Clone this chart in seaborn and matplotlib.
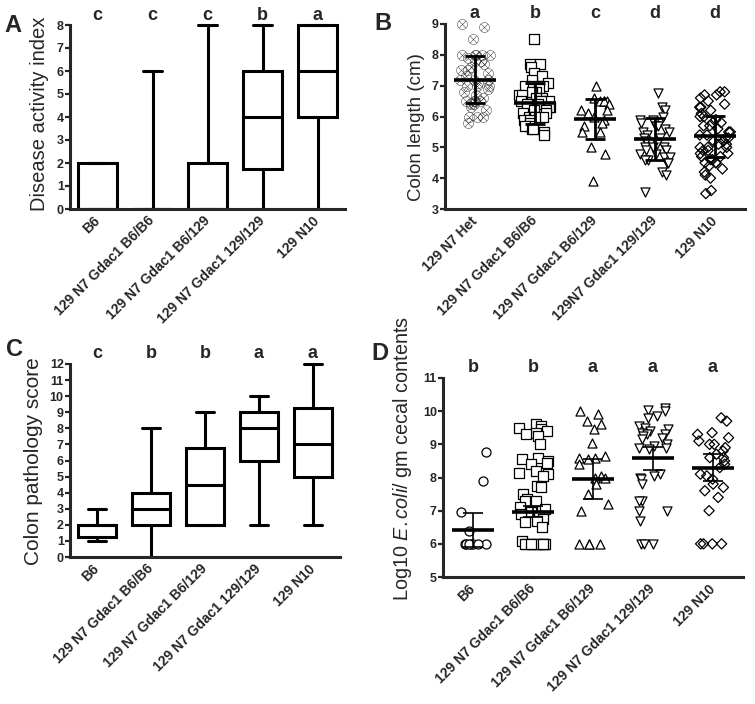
import numpy as np
import pandas as pd
import matplotlib
matplotlib.use("Agg")
import matplotlib.pyplot as plt
import matplotlib.transforms as mtransforms
import seaborn as sns

# group names
groups = ["B6", "129 N7 Gdac1 B6/B6", "129 N7 Gdac1 B6/129", "129 N7 Gdac1 129/129", "129 N10"]
groups_b = ["129 N7 Het", "129 N7 Gdac1 B6/B6", "129 N7 Gdac1 B6/129", "129N7 Gdac1 129/129", "129 N10"]

# Panel A - disease activity index, (min, q1, median, q3, max) per group
dai_b6 = [0, 0, 0, 2, 2]
dai_b6b6 = [0, 0, 0, 0, 6]
dai_b6129 = [0, 0, 0, 2, 8]
dai_129129 = [0, 1.75, 4, 6, 8]
dai_n10 = [0, 4, 6, 8, 8]
letters_a = ["c", "c", "c", "b", "a"]

# Panel B - colon length (cm), individual mice
len_het = [9.0, 8.9, 8.5, 8.0, 8.0, 8.0, 8.0, 8.0, 7.9, 7.8, 7.8, 7.7, 7.6, 7.5, 7.5, 7.4, 7.3,
           7.2, 7.2, 7.2, 7.1, 7.0, 7.0, 7.0, 6.9, 6.8, 6.7, 6.6, 6.5, 6.5, 6.5, 6.5, 6.4, 6.4,
           6.3, 6.2, 6.0, 6.0, 6.0, 5.8]
len_b6b6 = [8.5, 7.7, 7.7, 7.6, 7.4, 7.3, 7.2, 7.1, 7.0, 7.0, 7.0, 6.9, 6.9, 6.8, 6.8, 6.7, 6.7,
            6.6, 6.6, 6.5, 6.5, 6.5, 6.5, 6.4, 6.4, 6.4, 6.3, 6.3, 6.2, 6.2, 6.1, 6.1, 6.0, 6.0,
            6.0, 6.0, 5.9, 5.9, 5.8, 5.7, 5.7, 5.6, 5.6, 5.5, 5.4]
len_b6129 = [7.0, 6.6, 6.5, 6.5, 6.5, 6.5, 6.4, 6.2, 6.2, 6.1, 6.0, 5.9, 5.8, 5.7, 5.5, 5.5,
             5.0, 4.8, 3.9]
len_129129 = [6.75, 6.3, 6.2, 6.0, 5.9, 5.9, 5.8, 5.8, 5.7, 5.7, 5.6, 5.5, 5.5, 5.4, 5.3, 5.3,
              5.2, 5.1, 5.0, 5.0, 4.9, 4.8, 4.8, 4.7, 4.7, 4.6, 4.6, 4.5, 4.5, 4.9, 5.0, 4.2,
              4.1, 3.55]
len_n10 = [6.8, 6.8, 6.7, 6.7, 6.6, 6.5, 6.4, 6.3, 6.3, 6.2, 6.1, 6.0, 6.0, 5.9, 5.8, 5.8, 5.7,
           5.7, 5.6, 5.5, 5.5, 5.4, 5.4, 5.3, 5.3, 5.2, 5.2, 5.1, 5.1, 5.0, 5.0, 5.0, 4.9, 4.9,
           4.8, 4.8, 4.7, 4.7, 4.6, 4.6, 4.5, 4.5, 4.5, 4.4, 4.3, 4.2, 4.1, 4.0, 3.6, 3.5]
len_mean = [7.2, 6.43, 5.93, 5.26, 5.36]
len_sd = [0.75, 0.66, 0.65, 0.68, 0.66]
letters_b = ["a", "b", "c", "d", "d"]

# Panel C - colon pathology score, (min, q1, median, q3, max)
path_b6 = [1, 1.25, 2, 2, 3]
path_b6b6 = [0, 2, 3, 4, 8]
path_b6129 = [2, 2, 4.5, 6.75, 9]
path_129129 = [2, 6, 8, 9, 10]
path_n10 = [2, 5, 7, 9.25, 12]
letters_c = ["c", "b", "b", "a", "a"]

# Panel D - log10 E. coli per gm cecal contents
ecoli_b6 = [8.78, 7.9, 6.95, 6.4, 6.0, 6.0, 6.0, 6.0, 6.0, 6.0, 6.0]
ecoli_b6b6 = [9.6, 9.55, 9.5, 9.45, 9.4, 9.35, 9.3, 9.25, 9.0, 8.6, 8.55, 8.5, 8.45, 8.4, 8.2,
              8.15, 8.1, 8.05, 7.75, 7.7, 7.5, 7.35, 7.3, 7.3, 7.1, 7.05, 7.0, 6.95, 6.9, 6.85,
              6.75, 6.7, 6.65, 6.5, 6.1, 6.0, 6.0, 6.0, 6.0, 6.0, 6.0, 6.0, 6.0, 6.0, 6.0]
ecoli_b6129 = [10.0, 9.9, 9.7, 9.6, 9.45, 9.05, 8.65, 8.6, 8.6, 8.55, 8.4, 8.05, 8.0, 8.0, 7.8,
               7.5, 7.2, 7.0, 6.0, 6.0, 6.0, 6.0]
ecoli_129129 = [10.1, 10.05, 10.0, 9.85, 9.8, 9.55, 9.5, 9.45, 9.4, 9.35, 9.3, 9.3, 9.25, 9.2,
                9.15, 9.0, 8.95, 8.9, 8.9, 8.85, 8.1, 8.05, 8.0, 7.95, 7.8, 7.3, 7.3, 7.0, 7.0,
                6.7, 6.0, 6.0, 6.0]
ecoli_n10 = [9.8, 9.7, 9.35, 9.3, 9.2, 9.1, 9.0, 9.0, 8.9, 8.8, 8.7, 8.6, 8.6, 8.5, 8.4, 8.3,
             8.1, 8.05, 7.95, 7.8, 7.7, 7.6, 7.4, 7.0, 6.0, 6.0, 6.0, 6.0]
ecoli_mean = [6.42, 6.97, 7.95, 8.58, 8.3]
ecoli_err = [0.51, 0.17, 0.6, 0.34, 0.4]
letters_d = ["b", "b", "a", "a", "a"]

sns.set_style("ticks")
plt.rcParams["font.family"] = ["Liberation Sans", "DejaVu Sans"]
plt.rcParams["mathtext.fontset"] = "custom"
plt.rcParams["mathtext.rm"] = "Liberation Sans"
plt.rcParams["mathtext.it"] = "Liberation Sans:italic"

np.random.seed(7)
W, H = 755, 704
PAD = 10  # headroom above the top tick, in pixels
fig = plt.figure(figsize=(W / 100, H / 100), dpi=100)


def px_axes(left, top, right, bottom):
    ax = fig.add_axes([left / W, 1 - bottom / H, (right - left) / W, (bottom - top + PAD) / H])
    ax._px = (top, bottom)
    return ax


def style_axes(ax, names, lo, hi, letters, letter_px, ylabel, label_fs, label_xy):
    top, bottom = ax._px
    per_unit = (bottom - top) / (hi - lo)
    ax.set_xlim(-0.5, 4.5)
    ax.set_ylim(lo, hi + PAD / per_unit)
    yticks = list(range(lo, hi + 1))
    ax.set_yticks(yticks)
    sns.despine(ax=ax)
    ax.spines["left"].set_bounds(lo, hi)
    for sp in ["left", "bottom"]:
        ax.spines[sp].set_linewidth(2.2)
    ax.tick_params(axis="y", length=3.5, width=1.6, labelsize=9, pad=1)
    ax.tick_params(axis="x", length=0, pad=7)
    ax.set_yticklabels([str(t) for t in yticks], fontweight="bold")
    ax.set_xticks(range(len(names)))
    ax.set_xticklabels(names, rotation=45, ha="right", va="center",
                       rotation_mode="anchor", fontsize=10, fontweight="bold")
    ax.set_xlabel("")
    ax.set_ylabel(ylabel, fontsize=label_fs)
    h = bottom - top + PAD
    ax.yaxis.set_label_coords(label_xy[0], (bottom - label_xy[1]) / h)
    trans = mtransforms.blended_transform_factory(ax.transData, ax.transAxes)
    for i, l in enumerate(letters):
        ax.text(i, (bottom - letter_px) / h, l, transform=trans, ha="center", va="center",
                fontsize=13, fontweight="bold")


def box_panel(ax, summaries):
    df = pd.DataFrame({"group": np.repeat(groups, 5), "value": np.concatenate(summaries)})
    sns.boxplot(data=df, x="group", y="value", order=groups, ax=ax, color="white",
                linecolor="black", linewidth=2.2, width=0.7, whis=(0, 100),
                showfliers=False, saturation=1)


def strip_panel(ax, names, series, markers, sizes, means, errs, err_lw, capsize):
    for i, vals in enumerate(series):
        d = pd.DataFrame({"group": names[i], "value": vals})
        filled = markers[i].startswith("$")
        sns.stripplot(data=d, x="group", y="value", order=names, ax=ax, marker=markers[i],
                      size=sizes[i], jitter=0.26, color="0.15" if filled else "white",
                      edgecolor="black", linewidth=0 if filled else 0.9, zorder=2)
        if not filled:
            ax.collections[-1].set_facecolor("none")
    x = np.arange(len(names))
    ax.errorbar(x, means, yerr=errs, fmt="none", ecolor="black", elinewidth=err_lw,
                capsize=capsize, capthick=err_lw, zorder=5)
    ax.hlines(means, x - 0.35, x + 0.35, color="black", linewidth=2.6, zorder=6)


# A
axA = px_axes(70, 25, 345, 209)
box_panel(axA, [dai_b6, dai_b6b6, dai_b6129, dai_129129, dai_n10])
style_axes(axA, groups, 0, 8, letters_a, 15, "Disease activity index", 14.5, (-0.075, 114))

# B
axB = px_axes(445, 24, 745, 209)
strip_panel(axB, groups_b, [len_het, len_b6b6, len_b6129, len_129129, len_n10],
            [r"$\otimes$", "s", "^", "v", "D"], [7.5, 6.5, 6.5, 6.5, 5.2],
            len_mean, len_sd, 2.0, 7)
style_axes(axB, groups_b, 3, 9, letters_b, 13, "Colon length (cm)", 13.5, (-0.068, 127))

# C
axC = px_axes(70, 364, 340, 557)
box_panel(axC, [path_b6, path_b6b6, path_b6129, path_129129, path_n10])
style_axes(axC, groups, 0, 12, letters_c, 353, "Colon pathology score", 15, (-0.1, 461))

# D
axD = px_axes(443, 378, 743, 577)
strip_panel(axD, groups, [ecoli_b6, ecoli_b6b6, ecoli_b6129, ecoli_129129, ecoli_n10],
            ["o", "s", "^", "v", "D"], [6.5, 6.5, 6.5, 6.5, 5.2],
            ecoli_mean, ecoli_err, 1.2, 7.5)
style_axes(axD, groups, 5, 11, letters_d, 368,
           r"Log10 $\mathit{E.coli/}$ gm cecal contents", 14.3, (-0.095, 458))

# panel letters
for lab, px, py in [("A", 13, 25), ("B", 383, 23), ("C", 14, 350), ("D", 380, 353)]:
    fig.text(px / W, 1 - py / H, lab, ha="center", va="center", fontsize=17, fontweight="bold")

fig.savefig("out.png", dpi=100)
